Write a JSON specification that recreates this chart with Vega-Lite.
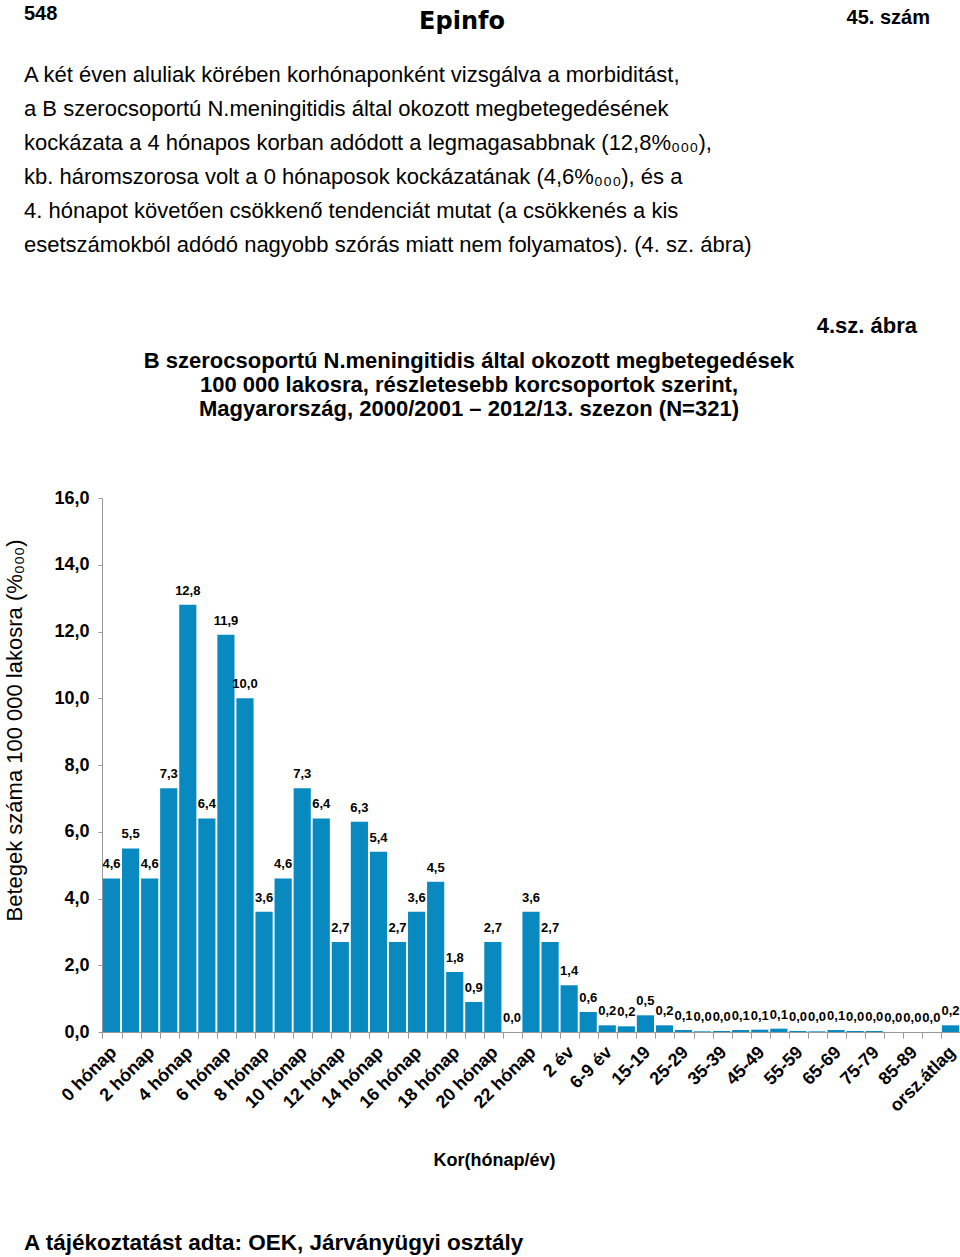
{
  "$schema": "https://vega.github.io/schema/vega-lite/v6.json",
  "padding": {"left": 2, "top": 3, "right": 0, "bottom": 0},
  "bounds": "flush",
  "spacing": 0,
  "background": "white",
  "config": {
    "view": {"stroke": null},
    "font": "Liberation Sans",
    "locale": {"number": {"decimal": ",", "thousands": " ", "grouping": [3], "currency": ["", " Ft"]}},
    "title": {"color": "black", "offset": 0}
  },
  "datasets": {
    "bars": [
      {"kor": "0 hónap", "ertek": 4.6},
      {"kor": "1 hónap", "ertek": 5.5},
      {"kor": "2 hónap", "ertek": 4.6},
      {"kor": "3 hónap", "ertek": 7.3},
      {"kor": "4 hónap", "ertek": 12.8},
      {"kor": "5 hónap", "ertek": 6.4},
      {"kor": "6 hónap", "ertek": 11.9},
      {"kor": "7 hónap", "ertek": 10.0},
      {"kor": "8 hónap", "ertek": 3.6},
      {"kor": "9 hónap", "ertek": 4.6},
      {"kor": "10 hónap", "ertek": 7.3},
      {"kor": "11 hónap", "ertek": 6.4},
      {"kor": "12 hónap", "ertek": 2.7},
      {"kor": "13 hónap", "ertek": 6.3},
      {"kor": "14 hónap", "ertek": 5.4},
      {"kor": "15 hónap", "ertek": 2.7},
      {"kor": "16 hónap", "ertek": 3.6},
      {"kor": "17 hónap", "ertek": 4.5},
      {"kor": "18 hónap", "ertek": 1.8},
      {"kor": "19 hónap", "ertek": 0.9},
      {"kor": "20 hónap", "ertek": 2.7},
      {"kor": "21 hónap", "ertek": 0.0},
      {"kor": "22 hónap", "ertek": 3.6},
      {"kor": "23 hónap", "ertek": 2.7},
      {"kor": "2 év", "ertek": 1.4},
      {"kor": "3-5 év", "ertek": 0.6},
      {"kor": "6-9 év", "ertek": 0.2},
      {"kor": "10-14", "ertek": 0.17},
      {"kor": "15-19", "ertek": 0.5},
      {"kor": "20-24", "ertek": 0.2},
      {"kor": "25-29", "ertek": 0.06},
      {"kor": "30-34", "ertek": 0.02},
      {"kor": "35-39", "ertek": 0.03},
      {"kor": "40-44", "ertek": 0.06},
      {"kor": "45-49", "ertek": 0.07},
      {"kor": "50-54", "ertek": 0.1},
      {"kor": "55-59", "ertek": 0.03},
      {"kor": "60-64", "ertek": 0.02},
      {"kor": "65-69", "ertek": 0.06},
      {"kor": "70-74", "ertek": 0.03},
      {"kor": "75-79", "ertek": 0.03},
      {"kor": "80-84", "ertek": 0.0},
      {"kor": "85-89", "ertek": 0.0},
      {"kor": "90+", "ertek": 0.0},
      {"kor": "orsz.átlag", "ertek": 0.2}
    ]
  },
  "vconcat": [
    {
      "width": 858, "height": 7,
      "data": {"values": [{}]},
      "mark": {"type": "text", "text": ""},
      "title": {"text": "548", "anchor": "start", "dx": -78, "fontSize": 20, "fontWeight": "bold", "frame": "group"}
    },
    {
      "width": 858, "height": 1,
      "data": {"values": [{}]},
      "mark": {"type": "text", "text": ""},
      "title": {"text": "45. szám", "anchor": "end", "dx": -30, "fontSize": 20, "fontWeight": "bold", "frame": "group"}
    },
    {
      "width": 858, "height": 223,
      "data": {"values": [{}]},
      "mark": {"type": "text", "text": ""},
      "title": {"text": "Epinfo", "anchor": "middle", "dx": -69, "font": "DejaVu Sans", "fontSize": 24, "fontWeight": "bold", "frame": "group"}
    },
    {
      "width": 858, "height": 81,
      "data": {"values": [{}]},
      "mark": {"type": "text", "text": ""},
      "title": {
        "text": [
          "A két éven aluliak körében korhónaponként vizsgálva a morbiditást,",
          "a B szerocsoportú N.meningitidis által okozott megbetegedésének",
          "kockázata a 4 hónapos korban adódott a legmagasabbnak (12,8%₀₀₀),",
          "kb. háromszorosa volt a 0 hónaposok kockázatának (4,6%₀₀₀), és a",
          "4. hónapot követően csökkenő tendenciát mutat (a csökkenés a kis",
          "esetszámokból adódó nagyobb szórás miatt nem folyamatos). (4. sz. ábra)"
        ],
        "anchor": "start", "dx": -78, "fontSize": 22, "fontWeight": "normal", "lineHeight": 34, "frame": "group"
      }
    },
    {
      "width": 858, "height": 156,
      "data": {"values": [{}]},
      "mark": {"type": "text", "text": ""},
      "title": {"text": "4.sz. ábra", "anchor": "end", "dx": -43, "fontSize": 22, "fontWeight": "bold", "frame": "group"}
    },
    {
      "width": 858, "height": 534,
      "data": {"name": "bars"},
      "title": {
        "text": [
          "B szerocsoportú N.meningitidis által okozott megbetegedések",
          "100 000 lakosra, részletesebb korcsoportok szerint,",
          "Magyarország, 2000/2001 – 2012/13. szezon (N=321)"
        ],
        "anchor": "middle", "dx": -62, "offset": 68, "fontSize": 22, "fontWeight": "bold", "lineHeight": 24, "frame": "group"
      },
      "encoding": {
        "x": {
          "field": "kor", "type": "nominal", "sort": null,
          "scale": {"paddingInner": 0.1, "paddingOuter": 0.05},
          "axis": {
            "title": "Kor(hónap/év)",
            "titleFontSize": 18, "titleFontWeight": "bold",
            "titleX": 392, "titleY": 128, "titleAlign": "center", "titleBaseline": "middle",
            "labelAngle": -45, "labelFontSize": 18, "labelFontWeight": "bold", "labelColor": "black",
            "labelOverlap": false, "labelPadding": 5, "labelOffset": -4,
            "labelExpr": "indexof(['0 hónap','2 hónap','4 hónap','6 hónap','8 hónap','10 hónap','12 hónap','14 hónap','16 hónap','18 hónap','20 hónap','22 hónap','2 év','6-9 év','15-19','25-29','35-39','45-49','55-59','65-69','75-79','85-89','orsz.átlag'], datum.value) >= 0 ? datum.label : ''",
            "bandPosition": 0, "tickSize": 6, "tickColor": "#999999", "domainColor": "#999999"
          }
        },
        "y": {
          "field": "ertek", "type": "quantitative",
          "scale": {"domain": [0, 16]},
          "axis": {
            "title": "Betegek száma 100 000 lakosra (%₀₀₀)",
            "titleFontSize": 22, "titleFontWeight": "normal",
            "titleX": -88, "titleY": 232, "titleAlign": "center", "titleBaseline": "middle", "titleAngle": -90,
            "values": [0, 2, 4, 6, 8, 10, 12, 14, 16], "format": ".1f",
            "labelFontSize": 18, "labelFontWeight": "bold", "labelColor": "black", "labelPadding": 9,
            "grid": false, "tickSize": 4, "tickColor": "#999999", "domainColor": "#999999"
          }
        }
      },
      "layer": [
        {"mark": {"type": "bar", "color": "#0889C0"}},
        {
          "mark": {"type": "text", "baseline": "bottom", "dy": -7, "fontSize": 13, "fontWeight": "bold", "color": "black"},
          "encoding": {"text": {"field": "ertek", "type": "quantitative", "format": ".1f"}}
        }
      ]
    },
    {
      "width": 858, "height": 232,
      "data": {"values": [{}]},
      "mark": {"type": "text", "text": ""}
    },
    {
      "width": 858, "height": 1,
      "data": {"values": [{}]},
      "mark": {"type": "text", "text": ""},
      "title": {"text": "A tájékoztatást adta: OEK, Járványügyi osztály", "anchor": "start", "dx": -78, "fontSize": 22.5, "fontWeight": "bold", "frame": "group"}
    }
  ]
}
